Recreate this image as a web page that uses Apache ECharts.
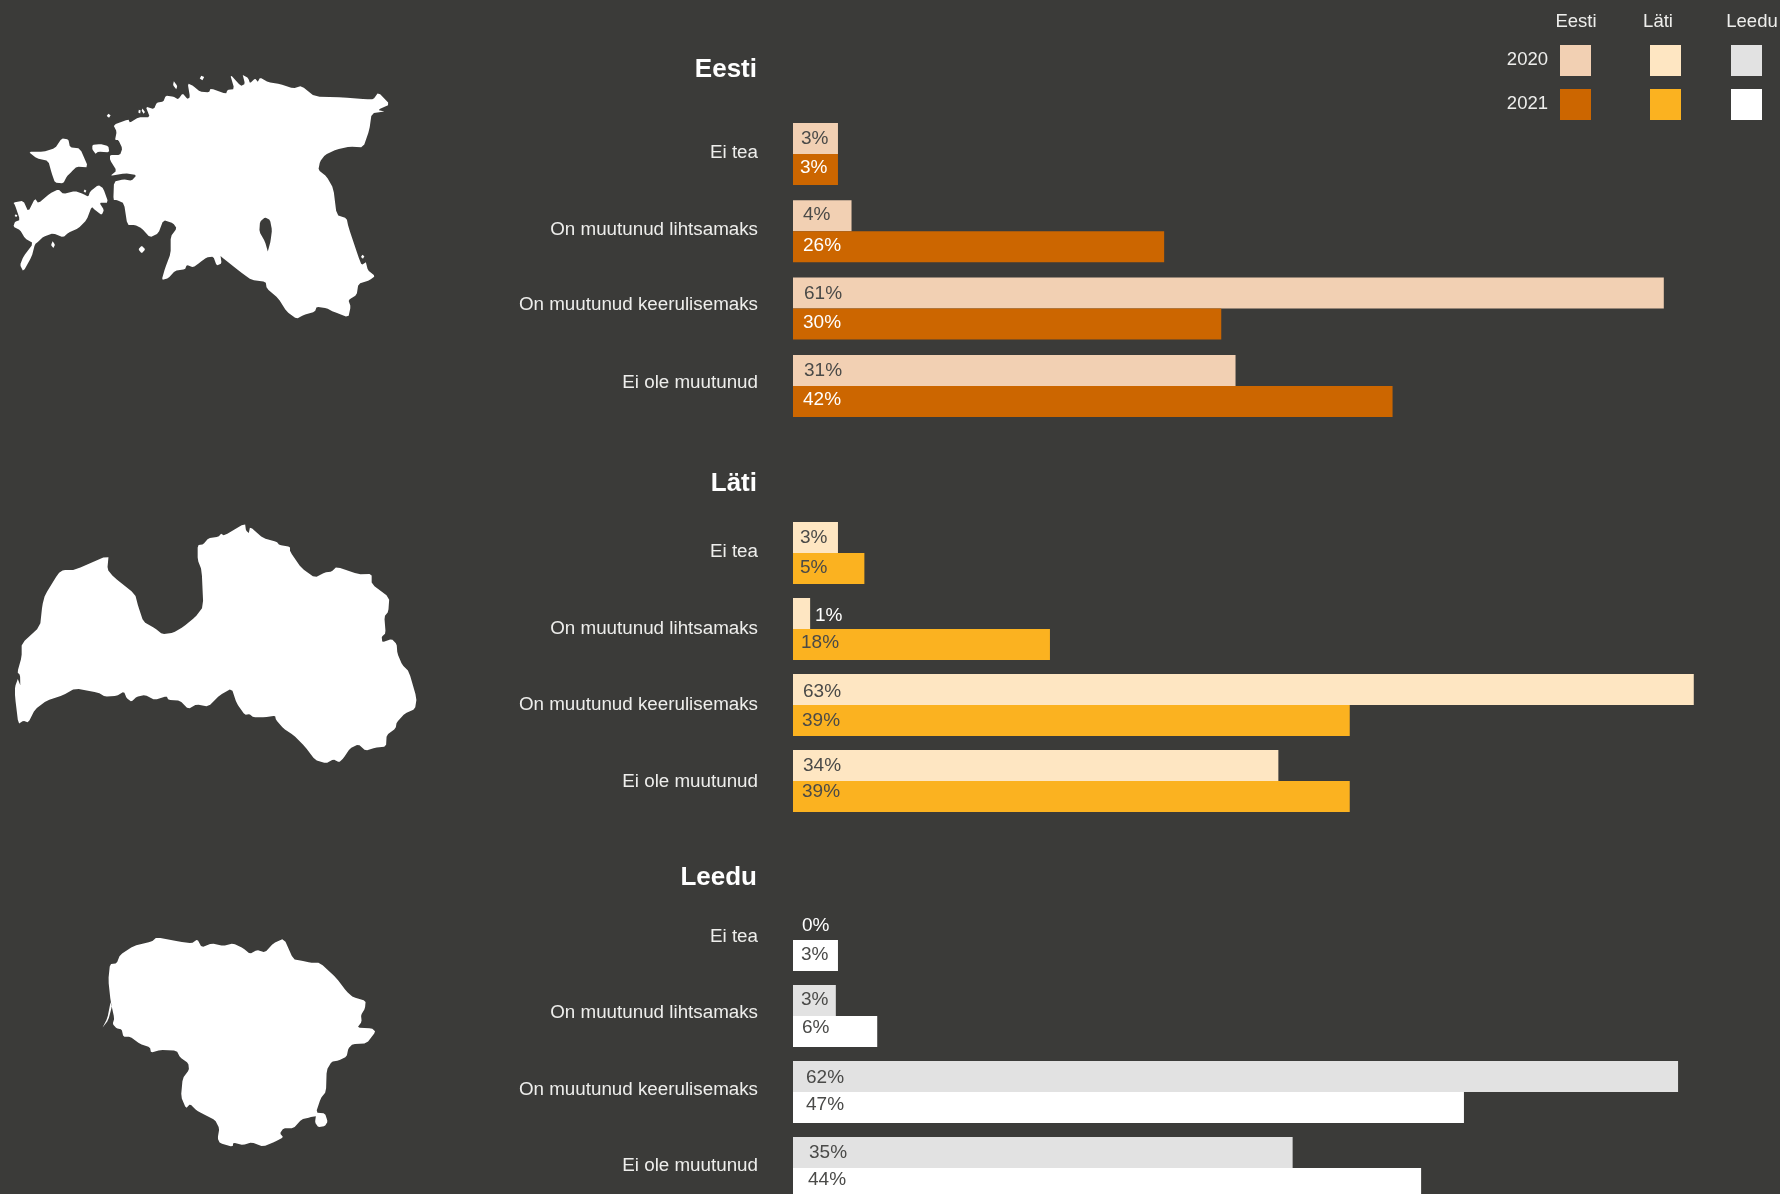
<!DOCTYPE html>
<html>
<head>
<meta charset="utf-8">
<style>html,body{margin:0;padding:0;background:#3b3b39;overflow:hidden}#c{width:1780px;height:1194px}</style>
<script src="https://cdn.jsdelivr.net/npm/echarts@6/dist/echarts.min.js"></script>
</head>
<body>
<div id="c"></div>
<script>
// ---- data ----
const categories = ['Ei tea', 'On muutunud lihtsamaks', 'On muutunud keerulisemaks', 'Ei ole muutunud'];
const countries = ['Eesti', 'Läti', 'Leedu'];
const years = ['2020', '2021'];
const eesti2020 = [3.15, 4.1, 61, 31];
const eesti2021 = [3.15, 26, 30, 42];
const lati2020 = [3.15, 1.2, 63.1, 34];
const lati2021 = [5, 18, 39, 39];
const leedu2020 = [0, 3, 62, 35];
const leedu2021 = [3.15, 5.9, 47, 44];

// ---- styling ----
const FONT = '"Liberation Sans", Arial, sans-serif';
const TXT = '#eeeeec', DARK = '#4a4a48';
const colors = { Eesti: ['#f2d0b3', '#cc6600'], 'Läti': ['#fee6c2', '#fbb220'], Leedu: ['#e2e2e2', '#ffffff'] };
const labelColors = {
  Eesti: [[DARK, DARK, DARK, DARK], ['#fff', '#fff', '#fff', '#fff']],
  'Läti': [[DARK, '#fff', DARK, DARK], [DARK, DARK, DARK, DARK]],
  Leedu: [['#fff', DARK, DARK, DARK], [DARK, DARK, DARK, DARK]]
};
const labelDx = {
  Eesti: [[8, 10, 11, 11], [7, 10, 10, 10]],
  'Läti': [[7, 22, 10, 10], [7, 8, 9, 9]],
  Leedu: [[9, 8, 13, 16], [8, 9, 13, 15]]
};
const labelDy = {
  Eesti: [[0, -1.5, 1, 0], [-1.5, -1.5, -1, -1.5]],
  'Läti': [[0.5, 2.5, 2.5, 0.5], [-1, -1.5, 0.5, -4.5]],
  Leedu: [[1, -0.5, 1, 0], [-1, -4, -3, -4]]
};
const panelTop = { Eesti: 115.3, 'Läti': 515, Leedu: 902 };
const panelH = { Eesti: 309.3, 'Läti': 304, Leedu: 304 };
const catDy = { Eesti: [-1.1, -1.1, -3.4, -3.4], 'Läti': [-1, 0, 0, 1], Leedu: [-3.4, -3.4, -2.3, -2.3] };
const titleY = { Eesti: 65, 'Läti': 479, Leedu: 873 };
const values = { Eesti: [eesti2020, eesti2021], 'Läti': [lati2020, lati2021], Leedu: [leedu2020, leedu2021] };

// ---- country silhouettes (decorative outlines, traced in 3x crop units) ----
const eeMain = [[340,195],[385,178],[390,188],[415,172],[450,172],[437,140],[462,147],[470,128],[490,125],[497,107],[520,110],[535,118],[548,100],[562,117],[570,112],[563,70],[580,78],[600,95],[627,97],[632,85],[678,102],[682,90],[703,87],[690,42],[722,78],[735,72],[727,40],[745,55],[750,70],[765,55],[775,67],[780,52],[805,67],[840,72],[880,85],[905,78],[945,110],[1030,112],[1100,118],[1120,118],[1135,97],[1170,133],[1133,150],[1157,155],[1115,160],[1108,210],[1090,262],[1050,260],[1010,268],[975,285],[960,305],[955,330],[980,350],[1000,385],[1010,465],[1040,475],[1045,500],[1075,590],[1085,615],[1100,605],[1103,630],[1125,648],[1110,660],[1075,672],[1070,705],[1045,720],[1052,740],[1045,772],[1000,755],[980,745],[950,740],[945,755],[910,765],[890,777],[860,755],[835,715],[800,685],[797,665],[755,660],[720,635],[670,595],[660,587],[665,610],[650,617],[640,590],[620,592],[600,607],[580,622],[560,615],[555,628],[525,632],[505,655],[485,660],[495,625],[512,580],[512,530],[530,505],[520,490],[490,480],[475,520],[450,532],[425,505],[405,495],[382,495],[372,430],[350,420],[340,420],[342,365],[370,358],[395,362],[410,345],[375,340],[330,348],[350,332],[330,300],[330,285],[360,285],[367,265],[355,240],[345,240],[350,215]];
const eeLake = [[795,472],[780,485],[778,515],[795,545],[805,580],[812,540],[816,510],[810,480]];
const eeSaare = [[40,428],[70,422],[85,455],[105,415],[115,430],[150,400],[175,388],[190,402],[225,393],[250,402],[265,410],[270,395],[295,375],[310,385],[325,428],[298,428],[312,450],[305,465],[285,450],[275,440],[260,480],[235,505],[205,518],[190,532],[160,520],[130,530],[115,545],[105,552],[95,590],[70,635],[60,615],[70,590],[100,550],[75,535],[60,510],[40,500],[45,485],[60,480],[45,435]];
const eeHiiu = [[85,275],[130,275],[165,265],[185,235],[205,238],[210,262],[240,265],[265,322],[230,320],[215,335],[200,350],[190,370],[165,368],[155,340],[145,303],[110,295]];
const eeVormsi = [[277,255],[300,252],[325,258],[328,277],[295,275],[285,282],[277,268]];
const eeIslets = [
  [[605,46],[614,52],[606,62],[598,54]], [[522,62],[532,78],[528,90],[519,75]],
  [[326,160],[333,167],[326,174],[319,167]], [[425,557],[436,568],[425,580],[415,568]],
  [[159,542],[165,555],[159,566],[153,555]], [[1088,583],[1094,590],[1088,597],[1082,590]],
  [[255,388],[260,393],[255,399],[250,393]], [[48,462],[53,467],[48,472],[43,467]],
  [[417,148],[423,152],[420,162],[414,157]], [[428,145],[436,158],[430,162],[424,150]]
];
const lvOutline = [[326,135],[322,178],[340,200],[405,252],[415,290],[430,335],[465,355],[487,373],[520,368],[550,350],[585,322],[610,290],[605,180],[593,150],[593,105],[610,103],[625,85],[655,80],[665,70],[672,77],[735,40],[738,62],[748,70],[750,50],[790,85],[830,95],[838,105],[870,110],[870,125],[905,175],[945,203],[975,187],[995,185],[1010,170],[1075,193],[1115,192],[1115,222],[1168,262],[1165,305],[1153,320],[1157,370],[1145,380],[1147,397],[1175,387],[1190,402],[1192,430],[1207,465],[1227,485],[1250,565],[1245,597],[1215,610],[1190,637],[1187,655],[1160,675],[1158,710],[1125,713],[1097,722],[1075,703],[1050,715],[1030,745],[1017,757],[1000,748],[978,760],[945,750],[915,710],[880,675],[850,655],[828,630],[825,617],[795,622],[760,622],[748,612],[735,615],[710,580],[695,535],[660,555],[625,590],[590,583],[565,597],[540,572],[505,570],[500,558],[465,570],[435,555],[410,560],[395,575],[380,565],[372,545],[350,558],[315,560],[295,548],[225,535],[190,555],[140,572],[105,598],[85,638],[70,632],[55,642],[45,560],[45,530],[55,503],[62,530],[60,495],[52,487],[65,440],[65,400],[120,350],[127,285],[135,255],[175,190],[190,180],[225,180]];
const ltOutline = [[90,132],[110,130],[120,105],[160,78],[215,65],[230,52],[300,65],[335,70],[352,58],[365,82],[395,70],[430,78],[460,70],[490,85],[510,102],[530,90],[555,97],[580,70],[612,55],[640,118],[665,122],[690,128],[720,128],[770,175],[800,215],[820,232],[857,242],[855,265],[843,285],[845,305],[832,323],[875,325],[887,335],[860,370],[818,372],[805,385],[800,410],[775,422],[755,425],[740,450],[738,515],[722,535],[708,578],[735,580],[743,605],[735,618],[715,622],[705,607],[708,585],[690,592],[665,598],[640,625],[610,625],[600,640],[610,652],[585,665],[550,680],[515,667],[490,675],[460,668],[458,680],[420,670],[413,655],[418,625],[405,600],[375,585],[350,572],[330,552],[318,565],[303,530],[308,475],[327,450],[325,430],[300,412],[290,392],[240,390],[213,398],[210,382],[180,372],[150,350],[130,350],[125,328],[110,325],[98,312],[103,295],[92,245],[85,180]];
const ltSliver = [[92,245],[82,295],[65,328],[85,300],[96,258]];

const maps = {
  Eesti: { polys: [[eeMain, eeLake], [eeSaare], [eeHiiu], [eeVormsi]].concat(eeIslets.map(i => [i])), ox: 0, oy: 60 },
  'Läti': { polys: [[lvOutline]], ox: 0, oy: 510 },
  Leedu: { polys: [[ltOutline], [ltSliver]], ox: 80, oy: 920 }
};
// soften the traced corners slightly
const soften = (ring, r) => ring.flatMap((p, i) => {
  const a = ring[(i + ring.length - 1) % ring.length], b = ring[(i + 1) % ring.length];
  return [[p[0] + (a[0] - p[0]) * r, p[1] + (a[1] - p[1]) * r], [p[0] + (b[0] - p[0]) * r, p[1] + (b[1] - p[1]) * r]];
});
const close = r => r.concat([r[0]]);
const geoComponents = countries.map(name => {
  const m = maps[name];
  const polys = m.polys.map(p => p.map(ring => soften(ring, 0.16)));
  const pts = polys.flat(2);
  const xs = pts.map(p => p[0]), ys = pts.map(p => p[1]);
  const x0 = Math.min(...xs), x1 = Math.max(...xs), y0 = Math.min(...ys), y1 = Math.max(...ys);
  echarts.registerMap('map' + name, {
    type: 'FeatureCollection',
    features: [{ type: 'Feature', properties: { name }, geometry: { type: 'MultiPolygon', coordinates: polys.map(p => p.map(close)) } }]
  });
  return {
    map: 'map' + name, silent: true, roam: false,
    projection: { project: p => p, unproject: p => p },
    left: m.ox + x0 / 3, top: m.oy + y0 / 3, width: (x1 - x0) / 3, height: (y1 - y0) / 3,
    label: { show: false },
    itemStyle: { areaColor: '#ffffff', borderWidth: 0 },
    emphasis: { disabled: true }, select: { disabled: true }
  };
});

// ---- panels ----
const grids = [], xAxes = [], yAxes = [], series = [], titles = [];
const catPadding = s => (s < 0 ? [0, 0, -2 * s, 0] : [2 * s, 0, 0, 0]);
countries.forEach((c, gi) => {
  const rich = {};
  categories.forEach((name, i) => {
    rich['r' + i] = { color: TXT, fontFamily: FONT, fontSize: 18.8, padding: catPadding(catDy[c][i]) };
  });
  grids.push({ left: 793, width: 985, top: panelTop[c], height: panelH[c], containLabel: false, outerBoundsMode: 'none' });
  xAxes.push({ gridIndex: gi, type: 'value', min: 0, max: 69, show: false });
  yAxes.push({
    gridIndex: gi, type: 'category', inverse: true, data: categories,
    axisLine: { show: false }, axisTick: { show: false }, splitLine: { show: false },
    axisLabel: {
      margin: 35, color: TXT, fontFamily: FONT, fontSize: 18.8, rich,
      formatter: (v, i) => '{r' + i + '|' + v + '}'
    }
  });
  titles.push({
    text: c, left: 752, top: titleY[c], textAlign: 'right', textVerticalAlign: 'middle',
    textStyle: { color: '#fff', fontFamily: FONT, fontSize: 26, fontWeight: 'bold' }
  });
  years.forEach((y, yi) => {
    series.push({
      name: c + ' ' + y, type: 'bar', xAxisIndex: gi, yAxisIndex: gi,
      barWidth: 31, barGap: 0, silent: true,
      itemStyle: { color: colors[c][yi] },
      data: values[c][yi].map((v, i) => ({
        value: v,
        label: { color: labelColors[c][yi][i], offset: [labelDx[c][yi][i], labelDy[c][yi][i]] }
      })),
      label: {
        show: true, position: 'insideLeft', distance: 0, fontFamily: FONT, fontSize: 19,
        formatter: p => Math.round(p.value) + '%'
      }
    });
  });
});

// ---- legend matrix ----
const legendX = { Eesti: 1560, 'Läti': 1650, Leedu: 1731 };
const legendHeadX = { Eesti: 1576, 'Läti': 1658, Leedu: 1752 };
const legendY = [45, 89];
const legendStyle = { fill: TXT, fontFamily: FONT, fontSize: 18.5 };
const graphics = [];
countries.forEach(c => {
  graphics.push({ type: 'text', x: legendHeadX[c], y: 22, silent: true, style: Object.assign({ text: c, textAlign: 'center', textVerticalAlign: 'middle' }, legendStyle) });
  years.forEach((y, yi) => {
    graphics.push({ type: 'rect', x: legendX[c], y: legendY[yi], silent: true, shape: { width: 31, height: 31 }, style: { fill: colors[c][yi] } });
  });
});
years.forEach((y, yi) => {
  graphics.push({ type: 'text', x: 1548, y: legendY[yi] + 14.5, silent: true, style: Object.assign({ text: y, textAlign: 'right', textVerticalAlign: 'middle' }, legendStyle) });
});

const chart = echarts.init(document.getElementById('c'), null, { renderer: 'canvas', width: 1780, height: 1194 });
chart.setOption({
  backgroundColor: '#3b3b39',
  animation: false,
  title: titles,
  tooltip: { show: false },
  geo: geoComponents,
  grid: grids, xAxis: xAxes, yAxis: yAxes, series,
  graphic: graphics
});
</script>
</body>
</html>
